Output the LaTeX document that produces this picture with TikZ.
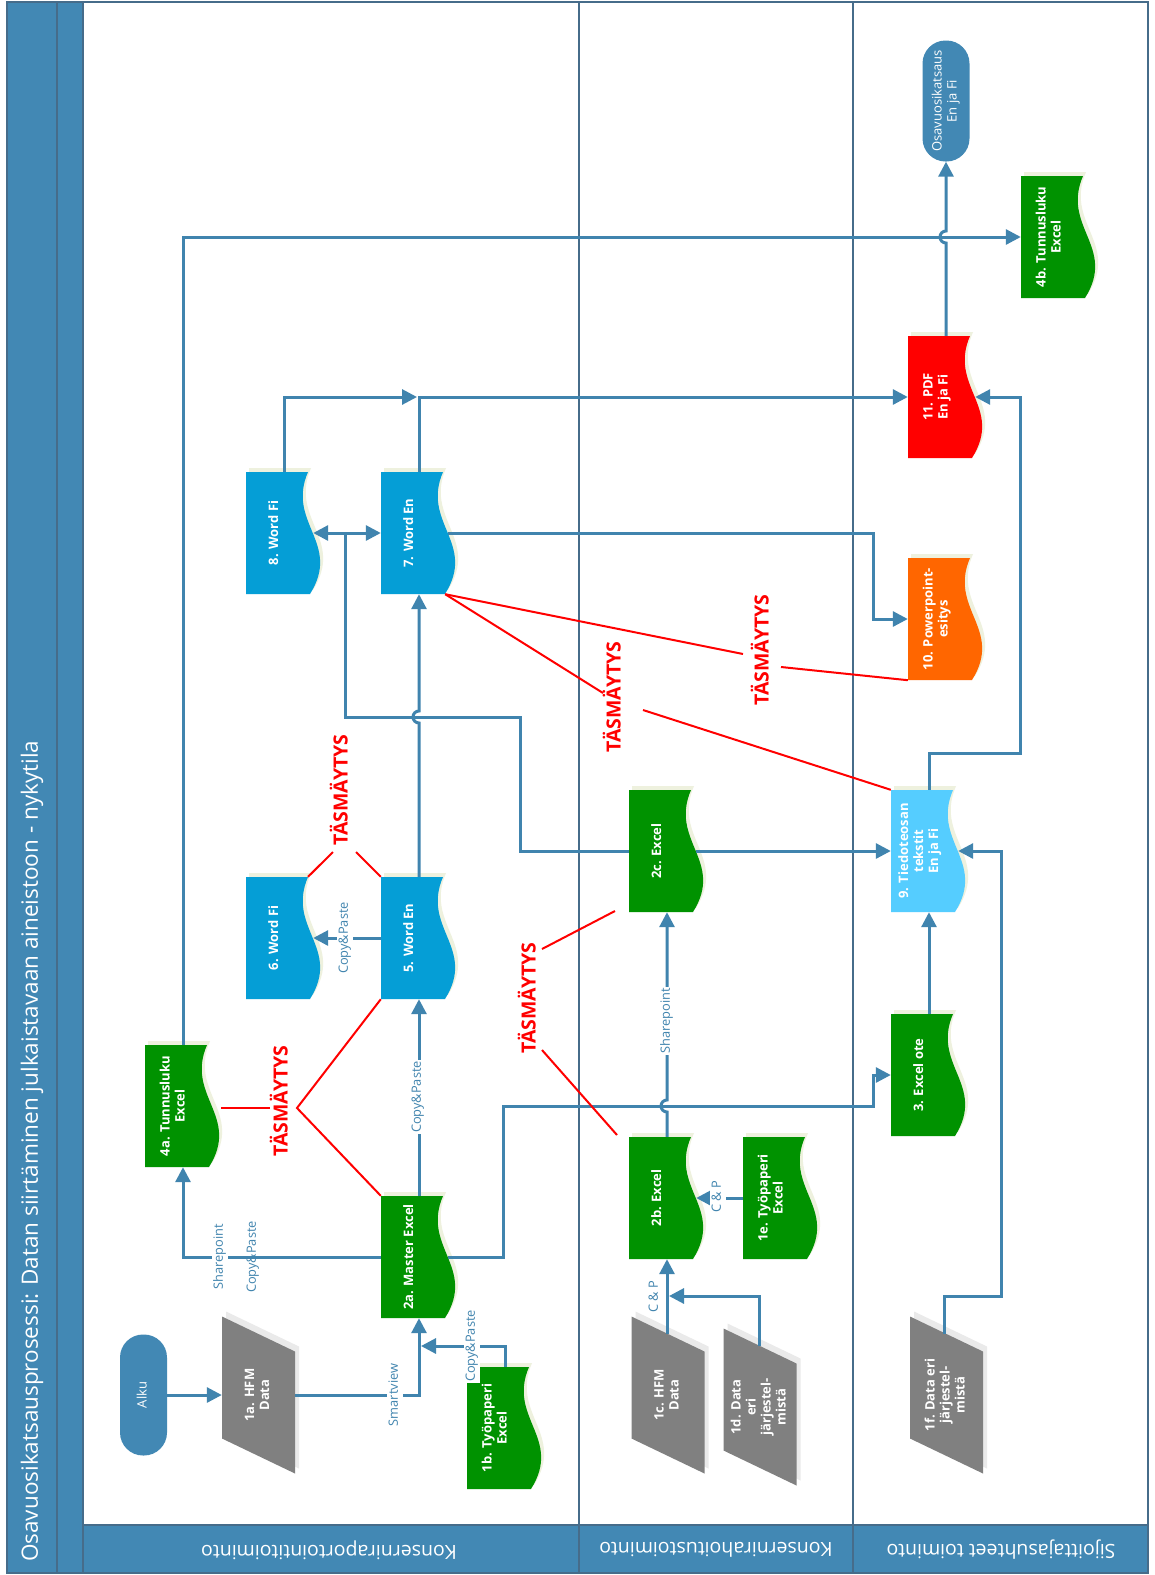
\documentclass[tikz,border=0pt]{standalone}
\usepackage{fontspec}
\setmainfont{Open Sans}
\usepackage{graphicx}
\usetikzlibrary{arrows.meta,calc}

\definecolor{band}{RGB}{66,136,180}
\definecolor{framec}{RGB}{70,108,138}
\definecolor{flowc}{RGB}{64,132,174}
\definecolor{xlgreen}{RGB}{0,146,0}
\definecolor{wordblue}{RGB}{5,158,214}
\definecolor{textblue}{RGB}{85,205,255}
\definecolor{pptorange}{RGB}{255,102,0}
\definecolor{pdfred}{RGB}{255,0,0}
\definecolor{datagray}{RGB}{128,128,128}
\definecolor{docshade}{RGB}{238,241,222}
\definecolor{datashade}{RGB}{234,234,234}

% rotated, centred multi-line text
\newcommand\rot[1]{\rotatebox{90}{\begin{tabular}{@{}c@{}}#1\end{tabular}}}

% document outline (wavy edge on the right), centred on the origin
\newcommand\docpathfill[1]{\fill[#1] (-38,-61) -- (24,-61) .. controls (2,-10) and (58,10) .. (26,61) -- (-38,61) -- cycle;}
% data outline (slanted parallelogram)
\newcommand\datapathfill[1]{\fill[#1] (-36.5,-78.5) -- (36.5,-43.5) -- (36.5,78.5) -- (-36.5,43.5) -- cycle;}

% #1 name, #2 centre, #3 fill colour, #4 text
\newcommand\docnode[4]{%
  \begin{scope}[shift={#2}]
    \docpathfill{docshade, xshift=3pt, yshift=4pt}
    \docpathfill{#3}
  \end{scope}
  \node[docbox, label={[nodetxt, xshift=-9pt]center:\rot{#4}}] (#1) at #2 {};
}
% #1 name, #2 centre, #3 text
\newcommand\datanode[3]{%
  \begin{scope}[shift={#2}]
    \datapathfill{datashade, xshift=4pt, yshift=5pt}
    \datapathfill{datagray}
  \end{scope}
  \node[databox, label={[nodetxt]center:\rot{#3}}] (#1) at #2 {};
}

\tikzset{
  flow/.style={draw=flowc, line width=3pt, -{Triangle[length=15pt,width=15pt]}},
  both/.style={draw=flowc, line width=3pt, {Triangle[length=15pt,width=15pt]}-{Triangle[length=15pt,width=15pt]}},
  link/.style={draw=flowc, line width=3pt},
  tas/.style={draw=red, line width=2pt},
  frameline/.style={draw=framec, line width=1.6pt},
  docbox/.style={inner sep=0pt, minimum width=76pt, minimum height=122pt},
  databox/.style={inner sep=0pt, minimum width=73pt, minimum height=157pt},
  term/.style={fill=band, rounded corners=23pt, inner sep=0pt, minimum width=47pt,
    minimum height=121pt, text=white, font=\fontsize{13}{15}\selectfont},
  nodetxt/.style={text=white, font=\fontsize{13}{15}\selectfont\bfseries, inner sep=0pt},
  flowlbl/.style={text=flowc, font=\fontsize{12.8}{14}\selectfont, inner sep=1pt},
  wlbl/.style={flowlbl, fill=white},
  taslbl/.style={text=red, font=\fontsize{19.5}{22}\selectfont\bfseries, inner sep=1pt},
  titletxt/.style={text=white, font=\fontsize{22.5}{26}\selectfont, inner sep=0pt},
  lanetxt/.style={text=white, font=\fontsize{19.5}{22}\selectfont, inner sep=0pt},
}

\begin{document}
\begin{tikzpicture}[x=1pt, y=-1pt]
\useasboundingbox (0,0) rectangle (1155,1575);
\fill[white] (0,0) rectangle (1155,1575);

% ---- swimlane frame ----
\fill[band] (7,2) rectangle (83,1573);
\fill[band] (83,1525) rectangle (1148,1573);
\draw[frameline] (7,2) rectangle (1148,1573);
\draw[frameline] (57,2) -- (57,1573);
\draw[frameline] (83,2) -- (83,1573);
\draw[frameline] (83,1525) -- (1148,1525);
\draw[frameline] (579,2) -- (579,1573);
\draw[frameline] (853,2) -- (853,1573);

\node[titletxt, anchor=south] (title) at (32,1562)
  {\rotatebox{90}{Osavuosikatsausprosessi: Datan siirtäminen julkaistavaan aineistoon - nykytila}};
\node[lanetxt] (laneA) at (329,1550) {\rotatebox{180}{Konserniraportointitoiminto}};
\node[lanetxt] (laneB) at (716,1550) {\rotatebox{180}{Konsernirahoitustoiminto}};
\node[lanetxt] (laneC) at (1001,1550) {\rotatebox{180}{Sijoittajasuhteet toiminto}};

% ---- terminals ----
\node[term] (nAlku) at (143.5,1395) {\rot{Alku}};
\node[term] (nEnd) at (946,101) {\rot{Osavuosikatsaus\\En ja Fi}};

% ---- data sources ----
\datanode{n1a}{(258.5,1395)}{1a. HFM\\Data}
\datanode{n1c}{(668,1395)}{1c. HFM\\Data}
\datanode{n1d}{(760,1407)}{1d. Data\\eri\\järjestel-\\mistä}
\datanode{n1f}{(946.5,1395)}{1f. Data eri\\järjestel-\\mistä}

% ---- documents ----
\docnode{n4a}{(183,1106)}{xlgreen}{4a. Tunnusluku\\Excel}
\docnode{n2a}{(419,1257)}{xlgreen}{2a. Master Excel}
\docnode{n1b}{(505,1428)}{xlgreen}{1b. Työpaperi\\Excel}
\docnode{n5}{(419,938)}{wordblue}{5. Word En}
\docnode{n6}{(284,938)}{wordblue}{6. Word Fi}
\docnode{n8}{(284,533)}{wordblue}{8. Word Fi}
\docnode{n7}{(419,533)}{wordblue}{7. Word En}
\docnode{n2c}{(667,851)}{xlgreen}{2c. Excel}
\docnode{n2b}{(667,1198)}{xlgreen}{2b. Excel}
\docnode{n1e}{(781,1198)}{xlgreen}{1e. Työpaperi\\Excel}
\docnode{n3}{(929,1075)}{xlgreen}{3. Excel ote}
\docnode{n9}{(929,851)}{textblue}{9. Tiedoteosan\\tekstit\\En ja Fi}
\docnode{n10}{(946,619)}{pptorange}{10. Powerpoint-\\esitys}
\docnode{n11}{(946,397)}{pdfred}{11. PDF\\En ja Fi}
\docnode{n4b}{(1059,237)}{xlgreen}{4b. Tunnusluku\\Excel}

% ---- junction points on other connectors ----
\coordinate (m1b) at (421,1346);
\coordinate (m8) at (417,397);
\coordinate (m1d) at (669,1296);

% ---- flows ----
\draw[flow] (nAlku.east) -- (nAlku.east -| n1a.west);
\draw[flow] (n1a.east) -| (n2a.south);
\draw[flow] (n1b.north) |- (m1b);
\draw[flow] (n2a.west) -| (n4a.south);
\draw[flow] (n2a.north) -- (n5.south);
\draw[flow] ([xshift=-9pt]n2a.east) -- (503,1257) |- (873,1106) |- (n3.west);
\draw[flow] (n4a.north) |- (n4b.west);
\draw[flow] (n5.west) -- ([xshift=-9pt]n6.east);
\draw[flow] (n5.north) -- (419,723) arc[start angle=270, end angle=90, radius=6pt] -- (n7.south);
\draw[link] (n2c.west) -| (520,717) -| (345,533);
\draw[both] ([xshift=-9pt]n8.east) -- (n7.west);
\draw[flow] ([xshift=-9pt]n2c.east) -- (n9.west);
\draw[flow] (n2b.north) -- (667,1112) arc[start angle=270, end angle=90, radius=6pt] -- (n2c.south);
\draw[flow] ($(n1c.center)+(-1,-61)$) -- (n2b.south);
\draw[flow] ($(n1d.center)+(-1,-61)$) |- (m1d);
\draw[flow] (n1e.west) -- ([xshift=-9pt]n2b.east);
\draw[flow] (n3.north) -- (n9.south);
\draw[flow] ($(n1f.center)+(-2,-61)$) |- (1001,1296) |- ([xshift=-9pt]n9.east);
\draw[flow] (n9.north) |- (1020,753) |- ([xshift=-9pt]n11.east);
\draw[flow] ([xshift=-9pt]n7.east) -- (873,533) |- (n10.west);
\draw[flow] (n7.north) |- (n11.west);
\draw[flow] (n8.north) |- (m8);
\draw[flow] (n11.north) -- (946,243) arc[start angle=270, end angle=90, radius=6pt] -- (nEnd.south);

% ---- flow labels ----
\node[wlbl] (lSmart) at (395,1395) {\rot{Smartview}};
\node[wlbl] (lCP1) at (472,1346) {\rot{Copy\&Paste}};
\node[wlbl] (lSP1) at (220,1257) {\rot{Sharepoint}};
\node[flowlbl] (lCP2) at (253,1257) {\rot{Copy\&Paste}};
\node[wlbl] (lCP3) at (418,1097) {\rot{Copy\&Paste}};
\node[wlbl] (lCP4) at (345,938) {\rot{Copy\&Paste}};
\node[wlbl] (lSP2) at (667,1021) {\rot{Sharepoint}};
\node[flowlbl] (lCnP1) at (655,1297) {\rot{C \& P}};
\node[wlbl] (lCnP2) at (718,1197) {\rot{C \& P}};

% ---- reconciliation marks ----
\node[taslbl] (lT1) at (282,1101) {\rot{TÄSMÄYTYS}};
\node[taslbl] (lT2) at (342,790) {\rot{TÄSMÄYTYS}};
\node[taslbl] (lT3) at (530,998) {\rot{TÄSMÄYTYS}};
\node[taslbl] (lT4) at (615,697) {\rot{TÄSMÄYTYS}};
\node[taslbl] (lT5) at (763,650) {\rot{TÄSMÄYTYS}};

\draw[tas] ($(n4a.east)+(0,2)$) -- (270,1108);
\draw[tas] (n5.south west) -- (297,1108) -- (n2a.north west);
\draw[tas] ([xshift=24pt]n6.north) -- (333,852);
\draw[tas] (n5.north west) -- (356,852);
\draw[tas] (615,911) -- (542,949);
\draw[tas] (542,1050) -- (617,1135);
\draw[tas] ([xshift=-12pt]n7.south east) -- (603,693);
\draw[tas] (643,710) -- (n9.north west);
\draw[tas] ([xshift=-12pt]n7.south east) -- (743,654);
\draw[tas] (781,667) -- (n10.south west);
\end{tikzpicture}
\end{document}
